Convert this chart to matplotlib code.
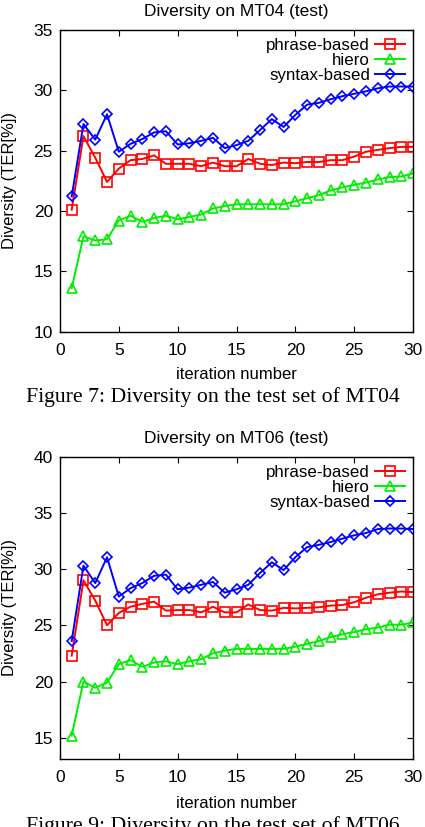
import matplotlib
matplotlib.use("Agg")
import matplotlib.pyplot as plt

iters = list(range(1, 31))

# MT04 (test)
mt04_phrase = [20.1, 26.2, 24.4, 22.4, 23.5, 24.2, 24.3, 24.6, 23.9, 23.9,
               23.9, 23.7, 24.0, 23.7, 23.7, 24.3, 23.9, 23.8, 24.0, 23.95,
               24.05, 24.05, 24.2, 24.2, 24.5, 24.9, 25.05, 25.2, 25.3, 25.3]
mt04_hiero = [13.6, 17.9, 17.55, 17.65, 19.2, 19.6, 19.1, 19.4, 19.6, 19.3,
              19.5, 19.7, 20.2, 20.4, 20.55, 20.55, 20.55, 20.55, 20.55, 20.8,
              21.05, 21.3, 21.7, 21.95, 22.15, 22.35, 22.6, 22.8, 22.85, 23.1]
mt04_syntax = [21.2, 27.2, 25.9, 28.0, 24.9, 25.55, 25.95, 26.5, 26.6, 25.5,
               25.6, 25.8, 26.05, 25.2, 25.45, 25.8, 26.7, 27.6, 26.95, 27.95,
               28.8, 28.95, 29.25, 29.5, 29.7, 29.9, 30.15, 30.3, 30.3, 30.3]

# MT06 (test)
mt06_phrase = [22.3, 29.0, 27.2, 25.0, 26.1, 26.65, 26.9, 27.1, 26.3, 26.35,
               26.35, 26.15, 26.65, 26.15, 26.15, 26.85, 26.35, 26.3, 26.55, 26.5,
               26.55, 26.6, 26.75, 26.8, 27.05, 27.45, 27.75, 27.9, 28.0, 27.95]
mt06_hiero = [15.2, 20.0, 19.45, 19.9, 21.55, 21.9, 21.3, 21.7, 21.8, 21.55,
              21.8, 22.0, 22.5, 22.75, 22.9, 22.9, 22.9, 22.9, 22.9, 23.1,
              23.35, 23.6, 23.95, 24.2, 24.4, 24.65, 24.8, 25.05, 25.05, 25.25]
mt06_syntax = [23.6, 30.3, 28.75, 31.05, 27.55, 28.3, 28.75, 29.4, 29.5, 28.2,
               28.35, 28.6, 28.85, 27.9, 28.2, 28.6, 29.65, 30.6, 29.9, 31.05,
               31.95, 32.15, 32.4, 32.7, 33.0, 33.2, 33.55, 33.6, 33.6, 33.55]

SANS = ["Liberation Sans", "DejaVu Sans"]
SERIF = ["Liberation Serif", "DejaVu Serif"]

fig = plt.figure(figsize=(4.25, 8.27), dpi=100)


def draw_panel(ax, title, phrase, hiero, syntax, ylim, yticks, xlab_y):
    ax.plot(iters, phrase, color="#ff0000", lw=1.4, marker="s", ms=6.5,
            mfc="none", mec="#ff0000", mew=1.2, label="phrase-based")
    ax.plot(iters, hiero, color="#00ee00", lw=1.4, marker="^", ms=7.5,
            mfc="none", mec="#00ee00", mew=1.2, label="hiero")
    ax.plot(iters, syntax, color="#0000ff", lw=1.4, marker="D", ms=5.5,
            mfc="none", mec="#0000ff", mew=1.2, label="syntax-based")
    ax.set_xlim(0, 30)
    ax.set_ylim(*ylim)
    ax.set_xticks(range(0, 31, 5))
    ax.set_yticks(yticks)
    ax.tick_params(direction="in", top=True, right=True, length=4,
                   labelsize=12.5)
    ax.tick_params(axis="x", pad=8)
    ax.tick_params(axis="y", pad=5)
    for lab in ax.get_xticklabels() + ax.get_yticklabels():
        lab.set_family(SANS)
    for s in ax.spines.values():
        s.set_linewidth(1.0)
    ax.set_title(title, fontsize=12.5, family=SANS, pad=10)
    ax.set_xlabel("iteration number", fontsize=12, family=SANS, va="center")
    ax.xaxis.set_label_coords(0.5, xlab_y)
    ax.set_ylabel("Diversity (TER[%])", fontsize=12, family=SANS, va="center")
    ax.yaxis.set_label_coords(-0.142, 0.5)
    leg = ax.legend(loc="upper right", frameon=False, markerfirst=False,
                    prop={"family": SANS, "size": 12.2}, handlelength=1.75,
                    handletextpad=0.3, labelspacing=0.0, borderaxespad=0.1)
    for t in leg.get_texts():
        t.set_ha("right")


ax1 = fig.add_axes([0.141, 0.599, 0.831, 0.365])
draw_panel(ax1, "Diversity on MT04 (test)", mt04_phrase, mt04_hiero, mt04_syntax,
           (10, 35), range(10, 36, 5), -0.1435)

ax2 = fig.add_axes([0.141, 0.082, 0.831, 0.366])
draw_panel(ax2, "Diversity on MT06 (test)", mt06_phrase, mt06_hiero, mt06_syntax,
           (13.1, 40), range(15, 41, 5), -0.1455)

fig.text(0.5, 1 - 397 / 827, "Figure 7: Diversity on the test set of MT04",
         ha="center", va="center", fontsize=15.7, family=SERIF)
fig.text(0.5, 1 - 826 / 827, "Figure 9: Diversity on the test set of MT06",
         ha="center", va="center", fontsize=15.7, family=SERIF)

fig.savefig("out.png", dpi=100)
